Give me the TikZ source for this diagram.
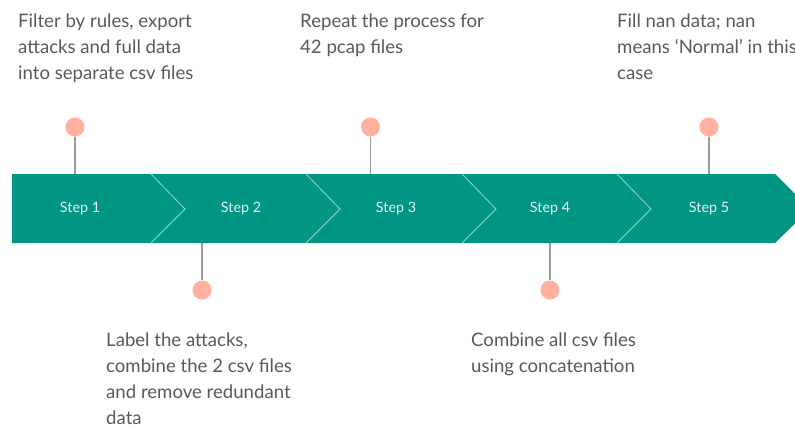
\documentclass[tikz,border=0pt]{standalone}
\usepackage{fontspec}
\setmainfont{Lato}
\definecolor{band}{HTML}{009683}
\definecolor{divider}{HTML}{8FD8CA}
\definecolor{pin}{HTML}{FFB09E}
\definecolor{stem}{HTML}{9A9A9A}
\definecolor{txt}{HTML}{595959}
\definecolor{steptxt}{HTML}{E6F4F1}
\begin{document}
\begin{tikzpicture}[x=1pt,y=-1pt,
  steplabel/.style={text=steptxt,font=\fontsize{14.3}{16}\selectfont,inner sep=0pt},
  pinball/.style={circle,fill=pin,minimum size=19pt,inner sep=0pt},
  stemline/.style={draw=stem,line width=1.3pt},
  note/.style={text=txt,font=\fontsize{18.6}{26}\selectfont,align=left,anchor=north west,inner sep=0pt},
  divline/.style={draw=divider,line width=0.8pt}]
\useasboundingbox (0,0) rectangle (795,426);
\begin{scope}
\clip (0,0) rectangle (795,426);
\fill[band] (12,174) -- (775,174) -- (810,209) -- (775,243) -- (12,243) -- cycle;
\end{scope}
\foreach \xa in {151,306,462,617}{
  \draw[divline] (\xa,174) -- (\xa+34,209) -- (\xa,243);
}
\node[steplabel] (s1) at (80,209) {Step 1};
\node[steplabel] (s2) at (241,209) {Step 2};
\node[steplabel] (s3) at (396,209) {Step 3};
\node[steplabel] (s4) at (550,209) {Step 4};
\node[steplabel] (s5) at (709,209) {Step 5};
% pins
\coordinate (a1) at (75,174);
\coordinate (a2) at (202,243);
\coordinate (a3) at (370.5,174);
\coordinate (a4) at (550,243);
\coordinate (a5) at (709,174);
\node[pinball] (p1) at (75,127) {};
\node[pinball] (p2) at (202,290) {};
\node[pinball] (p3) at (370.5,127) {};
\node[pinball] (p4) at (550,290) {};
\node[pinball] (p5) at (709,127) {};
\draw[stemline] (p1.south) -- (a1);
\draw[stemline] (p2.north) -- (a2);
\draw[stemline] (p3.south) -- (a3);
\draw[stemline] (p4.north) -- (a4);
\draw[stemline] (p5.south) -- (a5);
% notes
\node[note] (n1) at (18,14) {Filter by rules, export\\attacks and full data\\into separate csv files};
\node[note] (n3) at (300,14) {Repeat the process for\\42 pcap files};
\node[note] (n5) at (617,14) {Fill nan data; nan\\means ‘Normal’ in this\\case};
\node[note] (n2) at (106,333) {Label the attacks,\\combine the 2 csv files\\and remove redundant\\data};
\node[note] (n4) at (471,332.5) {Combine all csv files\\using concatenation};
\end{tikzpicture}
\end{document}
